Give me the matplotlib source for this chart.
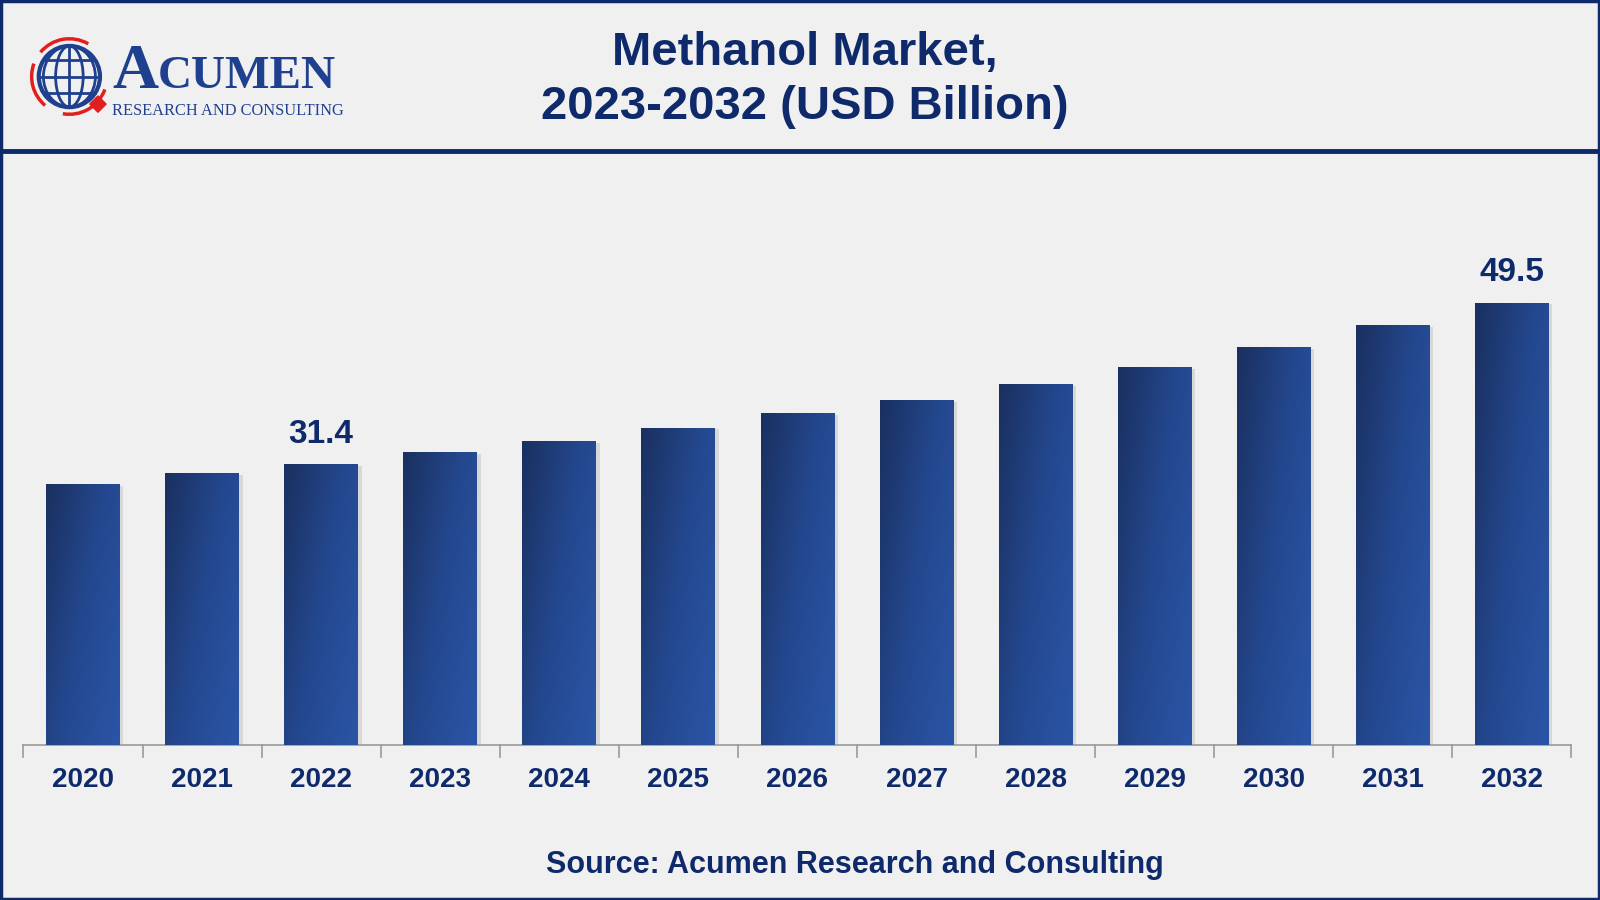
import numpy as np
import matplotlib
matplotlib.use("Agg")
import matplotlib.pyplot as plt
from matplotlib.patches import Rectangle, Circle, Ellipse, Arc, Polygon
from matplotlib.colors import LinearSegmentedColormap

years = ["2020", "2021", "2022", "2023", "2024", "2025", "2026",
         "2027", "2028", "2029", "2030", "2031", "2032"]
values = [29.2, 30.4, 31.4, 32.8, 34.0, 35.5, 37.1, 38.6, 40.4, 42.3, 44.5, 47.0, 49.5]
labelled = {"2022": "31.4", "2032": "49.5"}

title_lines = ["Methanol Market,", "2023-2032 (USD Billion)"]
source = "Source: Acumen Research and Consulting"

NAVY = "#0f2a6b"
BG = "#f0f0f0"
W, H = 1568, 882  # reference pixel grid used for layout

plt.rcParams["font.family"] = ["Liberation Sans", "DejaVu Sans"]

fig = plt.figure(figsize=(16, 9), dpi=100)
fig.patch.set_facecolor(BG)

# overlay in reference-pixel coordinates for frame, header and logo
deco = fig.add_axes([0, 0, 1, 1])
deco.set_xlim(0, W)
deco.set_ylim(H, 0)
deco.axis("off")
deco.add_patch(Rectangle((1, 1), W - 2, H - 2, fill=False, ec=NAVY, lw=2.5))
deco.plot([0, W], [148, 148], color=NAVY, lw=3.5, solid_capstyle="butt")

deco.text(789, 52, title_lines[0], ha="center", va="center",
          fontsize=34, fontweight="bold", color=NAVY)
deco.text(789, 105, title_lines[1], ha="center", va="center",
          fontsize=34, fontweight="bold", color=NAVY)
deco.text(838, 848, source, ha="center", va="center",
          fontsize=22, fontweight="bold", color=NAVY)

# logo
gx, gy, gr = 68, 75, 30
blue = "#1f3f8f"
red = "#e0201f"
deco.add_patch(Circle((gx, gy), gr, fill=False, ec=blue, lw=3))
for rx in [0.45, 0.85]:
    deco.add_patch(Ellipse((gx, gy), 2 * gr * rx, 2 * gr, fill=False, ec=blue, lw=2))
deco.plot([gx, gx], [gy - gr, gy + gr], color=blue, lw=2)
for dy in [-0.55, 0, 0.55]:
    half = gr * np.sqrt(1 - dy ** 2)
    deco.plot([gx - half, gx + half], [gy + dy * gr, gy + dy * gr], color=blue, lw=2)
for t1, t2 in [(20, 100), (130, 200), (220, 300)]:
    deco.add_patch(Arc((gx, gy), 2 * gr + 14, 2 * gr + 14, theta1=t1, theta2=t2,
                       ec=red, lw=2.5))
deco.add_patch(Polygon([[96, 94], [104, 102], [96, 110], [88, 102]], color=red))
deco.text(110, 86, "A", fontsize=46, family="Liberation Serif", color=blue,
          va="baseline", fontweight="bold")
deco.text(155, 86, "CUMEN", fontsize=34, family="Liberation Serif", color=blue,
          va="baseline", fontweight="bold")
deco.text(110, 113, "RESEARCH AND CONSULTING", fontsize=11.8,
          family="Liberation Serif", color=blue, va="baseline")

# chart
ppu = 275 / 31.4
ax = fig.add_axes([23 / W, 1 - 730 / H, (1540 - 23) / W, 560 / H])
ax.set_facecolor("none")
for s in ["top", "right", "left"]:
    ax.spines[s].set_visible(False)
ax.spines["bottom"].set_color("#9a9a9a")
ax.spines["bottom"].set_linewidth(1.2)
ax.set_yticks([])
ax.set_xticks(np.arange(len(years)))
ax.set_xticklabels(years, fontsize=20, fontweight="bold", color=NAVY)
ax.tick_params(axis="x", length=0, pad=16)
for b in np.arange(len(years) + 1) - 0.5:
    ax.plot([b, b], [0, -1.3], color="#9a9a9a", lw=1.2, clip_on=False)

cmap = LinearSegmentedColormap.from_list("bar", ["#1a3060", "#24488f", "#2a55a6"])
gx_, gy_ = np.meshgrid(np.linspace(0, 1, 60), np.linspace(0, 1, 120))
grad = 0.6 * gx_ + 0.4 * gy_

bw = 0.62
bars = ax.bar(range(len(years)), values, width=bw, color="none", zorder=3)
for i, (bar, v) in enumerate(zip(bars, values)):
    ax.add_patch(Rectangle((i - bw / 2 + 0.03, 0), bw, v - 0.2,
                           color="#c8c8c8", alpha=0.6, zorder=2, lw=0))
    im = ax.imshow(grad, cmap=cmap, aspect="auto", origin="upper",
                   extent=(i - bw / 2, i + bw / 2, 0, v), zorder=3)
    im.set_clip_path(bar)
    if years[i] in labelled:
        ax.text(i, v + 1.6, labelled[years[i]], ha="center", va="bottom",
                fontsize=24, fontweight="bold", color=NAVY)
ax.set_xlim(-0.5, len(years) - 0.5)
ax.set_ylim(0, 560 / ppu)

fig.savefig("out.png", dpi=100, facecolor=BG)
